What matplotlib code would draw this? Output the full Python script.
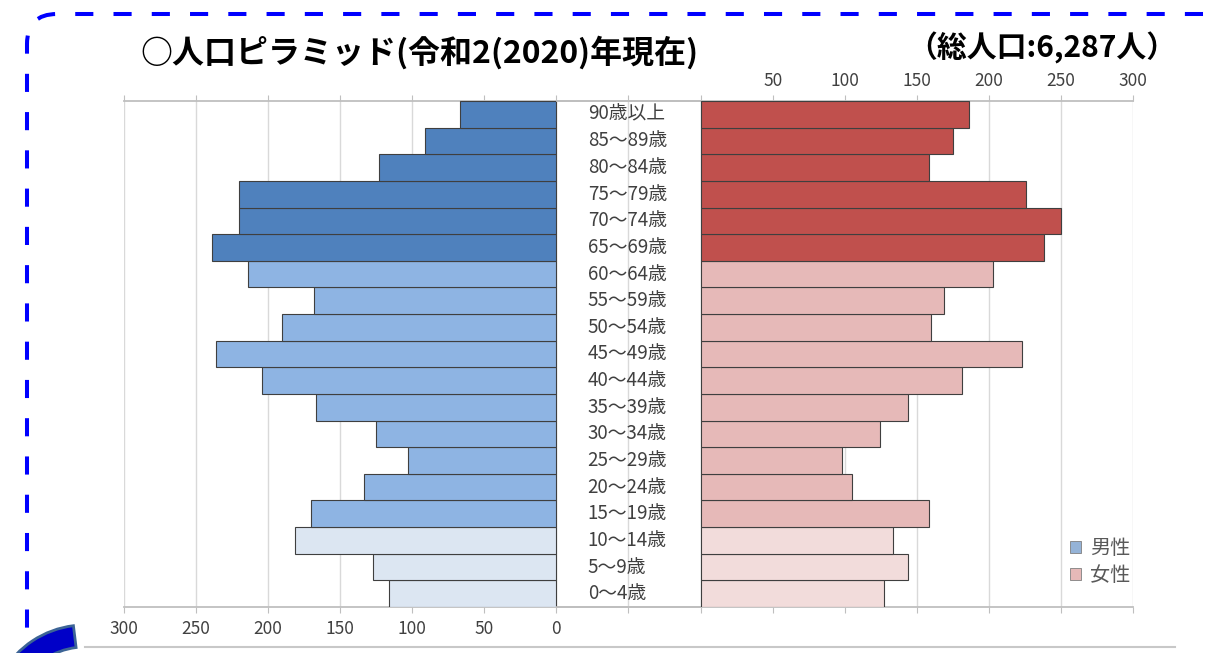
import matplotlib.pyplot as plt
from matplotlib.patches import FancyBboxPatch, Wedge, Patch
from matplotlib.lines import Line2D

plt.rcParams['font.family'] = ['Noto Sans CJK JP', 'DejaVu Sans']

# age groups, bottom to top
age_labels = ['0～4歳', '5～9歳', '10～14歳', '15～19歳', '20～24歳', '25～29歳',
              '30～34歳', '35～39歳', '40～44歳', '45～49歳', '50～54歳', '55～59歳',
              '60～64歳', '65～69歳', '70～74歳', '75～79歳', '80～84歳', '85～89歳',
              '90歳以上']
male = [116, 127, 181, 170, 133, 103, 125, 167, 204, 236, 190, 168,
        214, 239, 220, 220, 123, 91, 67]
female = [127, 144, 133, 158, 105, 98, 124, 144, 181, 223, 160, 169,
          203, 238, 250, 226, 158, 175, 186]

left_ticks = [300, 250, 200, 150, 100, 50, 0, -50]
left_ticklabels = ['300', '250', '200', '150', '100', '50', '0', '']
right_ticks = [0, 50, 100, 150, 200, 250, 300]
right_ticklabels = ['', '50', '100', '150', '200', '250', '300']

title = '○人口ピラミッド(令和2(2020)年現在)'
total_text = '（総人口:6,287人）'


def group_color(i, young, work, old):
    if i < 3:
        return young
    if i < 13:
        return work
    return old


W, H = 1208, 653
fig = plt.figure(figsize=(W / 100, H / 100), dpi=100)

top, bottom = 101, 607
ax_l = fig.add_axes([124 / W, 1 - bottom / H, (700 - 124) / W, (bottom - top) / H])
ax_r = fig.add_axes([557 / W, 1 - bottom / H, (1133 - 557) / W, (bottom - top) / H])
ax_l.patch.set_alpha(0)
ax_r.patch.set_alpha(0)

y = list(range(len(age_labels)))
edge = '#3f3f3f'
m_cols = [group_color(i, '#dce6f2', '#8eb4e3', '#4f81bd') for i in y]
f_cols = [group_color(i, '#f2dcdb', '#e6b9b8', '#c0504d') for i in y]

ax_l.barh(y, male, height=1.0, color=m_cols, edgecolor=edge, lw=0.8, zorder=3)
ax_r.barh(y, female, height=1.0, color=f_cols, edgecolor=edge, lw=0.8, zorder=3)

grid_c = '#d9d9d9'
axis_c = '#bfbfbf'
txt_c = '#404040'

for ax, ticks, labels, lim in [(ax_l, left_ticks, left_ticklabels, (300, -100)),
                               (ax_r, right_ticks, right_ticklabels, (-100, 300))]:
    ax.set_xlim(*lim)
    ax.set_ylim(-0.5, 18.5)
    ax.set_xticks(ticks)
    ax.set_yticks([])
    ax.grid(axis='x', color=grid_c, lw=1, zorder=0)
    for s in ['left', 'right']:
        ax.spines[s].set_visible(False)
    for s in ['top', 'bottom']:
        ax.spines[s].set_color(axis_c)
        ax.spines[s].set_linewidth(1.3)
    ax.tick_params(axis='x', which='both', top=True, bottom=True, direction='out',
                   length=4, color=axis_c, labelsize=12.5, labelcolor=txt_c, pad=5)

ax_l.set_xticklabels(labels=left_ticklabels)
ax_l.tick_params(axis='x', labeltop=False, labelbottom=True)
ax_r.set_xticklabels(labels=right_ticklabels)
ax_r.tick_params(axis='x', labeltop=True, labelbottom=False, pad=4)

for i, lab in enumerate(age_labels):
    ax_l.text(-22, i, lab, ha='left', va='center', fontsize=13.5, color=txt_c, zorder=4)

handles = [Patch(facecolor='#95b3d7', edgecolor='#7f7f7f', lw=0.6, label='男性'),
           Patch(facecolor='#e6b9b8', edgecolor='#7f7f7f', lw=0.6, label='女性')]
leg = fig.legend(handles=handles, loc='upper left', bbox_to_anchor=(1052 / W, 1 - 520 / H),
                 frameon=False, fontsize=14.5, handlelength=0.55, handleheight=0.55,
                 handletextpad=0.45, labelspacing=0.3)
for t in leg.get_texts():
    t.set_color('#595959')

fig.text(140 / W, 1 - 53 / H, title, fontsize=23, fontweight='bold', va='center', ha='left')
fig.text(1176 / W, 1 - 48 / H, total_text, fontsize=21.5, fontweight='bold', va='center', ha='right')

# decorations around the picture
frame = FancyBboxPatch((27, -100), 1210, 653 - 14 + 100, boxstyle='round,pad=0,rounding_size=30',
                       transform=None, fill=False, edgecolor='#0000ff', lw=2.9,
                       linestyle=(0, (4.5, 5)))
fig.patches.append(frame)
fig.add_artist(Line2D([85 / W, 1175 / W], [1 - 647 / H, 1 - 647 / H], color='#c8c8c8', lw=1.5))
fig.patches.append(Wedge((85, -67), 95, 97, 150, width=22, transform=None,
                         facecolor='#0000c8', edgecolor='#3c6496', lw=2))

fig.savefig('out.png', dpi=100)
